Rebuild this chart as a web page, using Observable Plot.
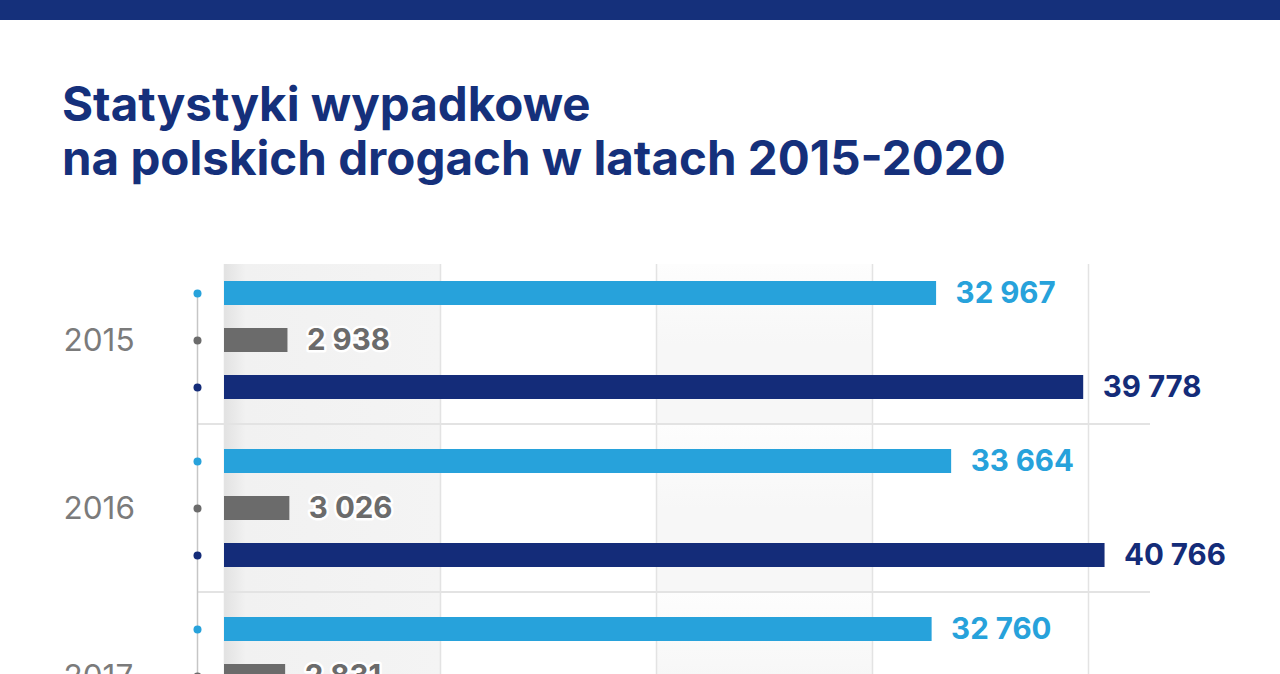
<!DOCTYPE html>
<html>
<head>
<meta charset="utf-8">
<script src="https://cdn.jsdelivr.net/npm/d3@7"></script>
<script src="https://cdn.jsdelivr.net/npm/@observablehq/plot@0.6"></script>
<style>
  html, body { margin: 0; padding: 0; background: #fff; width: 1280px; height: 674px; overflow: hidden; }
  #band { position: absolute; left: 0; top: 0; width: 1280px; height: 20px; background: #15307b; }
  #title { position: absolute; left: 62px; top: 77px; margin: 0; font-family: Inter, sans-serif; font-weight: 700;
           font-size: 47.5px; line-height: 54px; color: #15307b; white-space: nowrap; z-index: 2; }
  #chart { position: absolute; left: 0; top: 200px; z-index: 1; }
</style>
</head>
<body>
<div id="band"></div>
<div id="chart"></div>
<h1 id="title"><span id="t1">Statystyki wypadkowe</span><br><span id="t2">na polskich drogach w latach 2015-2020</span></h1>
<script>
// ---- data ----
const years = ["2015", "2016", "2017"];
const seriesNames = ["wypadki", "zabici", "ranni"];
const wypadki = [32967, 33664, 32760];
const zabici = [2938, 3026, 2831];
const ranni = [39778, 40766, null]; // 2017 value lies outside the visible picture
const gridTicks = [0, 10000, 20000, 30000, 40000];
const shadeBands = [[0, 10000], [20000, 30000]];
const seriesColors = ["#27a2db", "#6b6b6b", "#142c79"];

const seriesArrays = [wypadki, zabici, ranni];
const rows = [];
years.forEach((yr, i) => {
  seriesArrays.forEach((arr, j) => {
    if (arr[i] != null) rows.push({year: yr, series: seriesNames[j], value: arr[i]});
  });
});

const fmt = d3.formatLocale({decimal: ",", thousands: " ", grouping: [3], currency: ["", " zł"]}).format(",d");
const firstYear = years.slice(0, 1);
const otherYears = years.slice(1);
const gridFor = ys => ys.flatMap(y => gridTicks.map(t => ({year: y, t})));
const shadeFor = ys => ys.flatMap(y => shadeBands.map((b, k) => ({year: y, x1: b[0], x2: b[1], k})));

const chart = Plot.plot({
  width: 1280,
  height: 560,
  marginTop: 56,
  marginBottom: 0,
  marginLeft: 224,
  marginRight: 192,
  x: {domain: [0, 40000], axis: null},
  y: {domain: seriesNames, axis: null, paddingInner: 0.5, paddingOuter: 0.52},
  fy: {domain: years, axis: null, padding: 0},
  color: {domain: seriesNames, range: seriesColors},
  style: {fontFamily: "Inter, sans-serif", background: "transparent", overflow: "visible"},
  marks: [
    // background shading bands
    Plot.rect(shadeFor(firstYear), {x1: "x1", x2: "x2", fy: "year", fill: d => d.k === 0 ? "url(#shadeA)" : "url(#shadeB)", insetTop: 8}),
    Plot.rect(shadeFor(otherYears), {x1: "x1", x2: "x2", fy: "year", fill: d => d.k === 0 ? "url(#shadeA)" : "url(#shadeB)"}),
    // vertical grid
    Plot.ruleX(gridFor(firstYear), {x: "t", fy: "year", stroke: "#e3e3e3", strokeWidth: 1.5, insetTop: 8}),
    Plot.ruleX(gridFor(otherYears), {x: "t", fy: "year", stroke: "#e3e3e3", strokeWidth: 1.5}),
    // group separators
    Plot.ruleY(years.slice(0, -1), {fy: d => d, y: () => "ranni", dy: 36.5, stroke: "#e3e3e3", strokeWidth: 2, insetLeft: -27, insetRight: -62}),
    // timeline line
    Plot.ruleX(firstYear, {x: () => 0, fy: d => d, dx: -27, insetTop: 36.5, stroke: "#c6c6c6", strokeWidth: 1.5}),
    Plot.ruleX(otherYears, {x: () => 0, fy: d => d, dx: -27, stroke: "#c6c6c6", strokeWidth: 1.5}),
    // dots
    Plot.dot(rows, {x: () => 0, y: "series", fy: "year", fill: "series", r: 4, dx: -27}),
    // bars
    Plot.barX(rows, {x: "value", y: "series", fy: "year", fill: "series"}),
    // value labels
    Plot.text(rows, {x: "value", y: "series", fy: "year", text: d => fmt(d.value), dx: 19, textAnchor: "start",
      fill: "series", stroke: "white", strokeWidth: 5, fontSize: 29.5, fontWeight: 700}),
    // year labels
    Plot.text(years, {fy: d => d, text: d => d, frameAnchor: "left", dx: -161, textAnchor: "start",
      fill: "#7b7b7b", fontSize: 31.5, fontWeight: 400})
  ]
});

// gradient definitions used by the shading bands
const ns = "http://www.w3.org/2000/svg";
const defs = document.createElementNS(ns, "defs");
defs.innerHTML = `
  <linearGradient id="shadeA" x1="0" y1="0" x2="1" y2="0">
    <stop offset="0" stop-color="#e2e2e2"/>
    <stop offset="0.1" stop-color="#f1f1f1"/>
    <stop offset="1" stop-color="#f4f4f4"/>
  </linearGradient>
  <linearGradient id="shadeB" x1="0" y1="0" x2="0" y2="1">
    <stop offset="0" stop-color="#fdfdfd"/>
    <stop offset="0.5" stop-color="#f7f7f7"/>
    <stop offset="1" stop-color="#f7f7f7"/>
  </linearGradient>`;
chart.insertBefore(defs, chart.firstChild);
document.getElementById("chart").appendChild(chart);
</script>
</body>
</html>
